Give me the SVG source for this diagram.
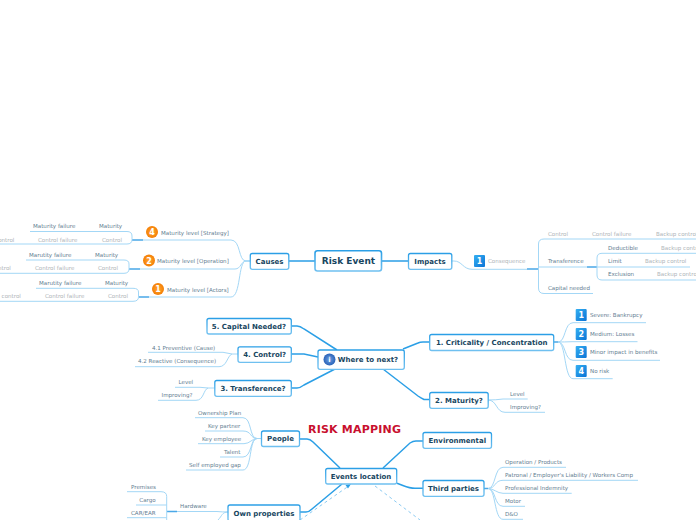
<svg xmlns="http://www.w3.org/2000/svg" width="696" height="520" viewBox="0 0 696 520">
<defs>
<linearGradient id="ns" x1="0" y1="0" x2="0" y2="1"><stop offset="0" stop-color="#2b9fe6"/><stop offset="1" stop-color="#6fc0f0"/></linearGradient>
<linearGradient id="bl" x1="0" y1="0" x2="1" y2="1"><stop offset="0" stop-color="#35b0f2"/><stop offset="1" stop-color="#0a73d6"/></linearGradient>
<radialGradient id="or"><stop offset="0" stop-color="#ffa632"/><stop offset="1" stop-color="#f47f05"/></radialGradient>
<radialGradient id="in"><stop offset="0" stop-color="#6e9fe2"/><stop offset="1" stop-color="#2a63b8"/></radialGradient>
</defs>
<style>
text{font-family:"DejaVu Sans",Verdana,sans-serif}
.n rect{fill:#fff;stroke:url(#ns);stroke-width:1.300}
.n text{font-weight:700;fill:#18465f;font-size:7px;text-anchor:middle}
.l{font-size:5.550px;fill:#5f7d91}
.g{font-size:5.550px;fill:#aeb4b8}
.b{fill:none;stroke:#2b9fe6;stroke-width:1.500}
.m{fill:none;stroke:#4aa8e8;stroke-width:1.300}
.t{fill:none;stroke:#a3d7f6;stroke-width:1}
.d{fill:none;stroke:#8ccbf2;stroke-width:1;stroke-dasharray:3 3}
.o{fill:url(#or)}.s{fill:url(#bl)}
.i{font-size:8px;font-weight:700;fill:#fff;text-anchor:middle}
</style>
<rect width="696" height="520" fill="#fff"/>
<g id="connectors">
<path class="b" d="M289 261H315M382 261H408M291 326H297Q300 326 304 329L337 350M291 354H304L318 357M291 388H297Q300 388 304 385L335 369M403 349L418 343Q420 342 423 342H430M383 369L418 396Q421 398 424 399.500H430M300 439H307Q310 439 313 442L340 468M383 468L410 443Q413 441 416 441H423M397 483.300C405 486 408 488.300 415 488.300H423M300 512H306Q309 512 312 509L342 484"/>
<path class="t" d="M250 261H246C238 261 241 240 231 240H143M250 261H246C241 261 241 269 235 269H140M250 261H246C238 261 241 297 231 297H149"/>
<path class="m" d="M132 240H143M129 269H140M139 297H149M527 269H538M587 267H597M167 511.500H177M554 342H558M484 488.500H488"/>
<path class="t" d="M30 231.500H127Q132 231.500 132 236V239.500Q132 244 127 244H0M26 260H124Q129 260 129 264V269Q129 273.300 124 273.300H0M36 288.300H133Q138.500 288.300 138.500 292V297Q138.500 301.300 133 301.300H0"/>
<path class="t" d="M452 261H454C462 261 463 269.300 472 269.300H527M696 239H544Q538.500 239 538.500 244V288Q538.500 293.500 544 293.500H593M538.500 267H587M597 267H690M696 253.300H602Q597 253.300 597 258V275Q597 280 602 280H696"/>
<path class="t" d="M238 354H232L223 352.300H148M232 354C227 356 227 366.700 219 366.700H135M214.500 388H208L200 387.300H175M208 388C203 390 204 400.300 196 400.300H158"/>
<path class="t" d="M558 342C566 342 564 322.700 573 322.700H646M558 342Q564 342 572 341.700H637.500M558 342C566 342 564 360.300 573 360.300H660M558 342C566 342 564 378.700 573 378.700H612.700M488 400Q496 400 503 399H527.700M488 400C497 400 496 412.300 505 412.300H545"/>
<path class="t" d="M261 438.500H257C249 438.500 252 417.700 243 417.700H195M257 438.500C250 438.500 252 431 243 431H205M257 438.500C252 438.500 250 443.700 244 443.700H198M257 438.500C250 438.500 252 457 243 457H220M257 438.500C249 438.500 252 470 243 470H186"/>
<path class="t" d="M488 488.500C496 488.500 494 467.300 503 467.300H566M488 488.500C496 488.500 494 480.300 503 480.300H638M488 488.500C494 488.500 497 493.300 503 493.300H571.700M488 488.500C496 488.500 494 506.300 503 506.300H525M488 488.500C496 488.500 494 519.300 503 519.300H523"/>
<path class="t" d="M228 512Q222 512 217 511.500H177M166.700 520V496.500Q166.700 491.700 161 491.700H127M166.700 505H136M166.700 517.700H127M228 512C222 512 222 516 218 520"/>
<path class="d" d="M300 520L348 486.500M375 486L420 520"/>
<path d="M351 484l-5.500 1 2.500 3.500z" fill="#2b9fe6"/>
</g>
<g id="causes" class="n"><rect x="250.300" y="253.500" width="38.500" height="15.800" rx="2"/><text x="269.500" y="263.700">Causes</text></g>
<g id="risk-event" class="n"><rect x="315" y="250.700" width="66.500" height="20.300" rx="2.500" style="stroke-width:1.600"/><text x="348.500" y="264.300" style="font-size:9px">Risk Event</text></g>
<g id="impacts" class="n"><rect x="408.500" y="253.500" width="43.300" height="15.800" rx="2"/><text x="430" y="263.700">Impacts</text></g>
<g id="capital" class="n"><rect x="207" y="318.500" width="84.300" height="15.500" rx="2"/><text x="249" y="329">5. Capital Needed?</text></g>
<g id="control" class="n"><rect x="238" y="346.800" width="53.300" height="15.500" rx="2"/><text x="264.700" y="357">4. Control?</text></g>
<g id="where" class="n"><rect x="318" y="350" width="86.300" height="19.300" rx="2"/><circle cx="329.500" cy="359.500" r="6" fill="url(#in)"/><text x="329.500" y="362" style="font-size:7px;fill:#fff">i</text><text x="368" y="362">Where to next?</text></g>
<g id="transference" class="n"><rect x="214.800" y="380.500" width="76.500" height="15.800" rx="2"/><text x="253" y="391">3. Transference?</text></g>
<g id="criticality" class="n"><rect x="429.700" y="334.500" width="124" height="16" rx="2"/><text x="491.700" y="345">1. Criticality / Concentration</text></g>
<g id="maturity" class="n"><rect x="429.700" y="392.500" width="58.500" height="15.800" rx="2"/><text x="459" y="403">2. Maturity?</text></g>
<g id="people" class="n"><rect x="261.500" y="431" width="38" height="15.500" rx="2"/><text x="280.500" y="441.200">People</text></g>
<g id="events" class="n"><rect x="325.700" y="468.500" width="71" height="15.500" rx="2"/><text x="361" y="478.800">Events location</text></g>
<g id="environmental" class="n"><rect x="423" y="432.500" width="68.500" height="15.800" rx="2"/><text x="457.300" y="443">Environmental</text></g>
<g id="third" class="n"><rect x="423" y="480.500" width="61" height="15.800" rx="2"/><text x="453.500" y="491">Third parties</text></g>
<g id="own" class="n"><rect x="228" y="505" width="72" height="16" rx="2"/><text x="264" y="515.500">Own properties</text></g>
<g id="labels">
<text x="308" y="433" style="font-size:11px;font-weight:700;fill:#c8102e;letter-spacing:.2px">RISK MAPPING</text>
<text class="l" x="33" y="228">Maturity failure</text><text class="l" x="99" y="228">Maturity</text>
<text class="g" x="-27" y="241.500">Backup control</text><text class="g" x="38" y="241.500">Control failure</text><text class="g" x="102" y="241.500">Control</text>
<text class="l" x="29" y="257">Marutity failure</text><text class="l" x="95" y="257">Maturity</text>
<text class="g" x="-30.500" y="270">Backup control</text><text class="g" x="35" y="270">Control failure</text><text class="g" x="98" y="270">Control</text>
<text class="l" x="39" y="285">Marutity failure</text><text class="l" x="105" y="285">Maturity</text>
<text class="g" x="-20.500" y="298">Backup control</text><text class="g" x="45" y="298">Control failure</text><text class="g" x="108" y="298">Control</text>
<circle class="o" cx="152" cy="232" r="6"/><text class="i" x="152" y="235">4</text><text class="l" x="161" y="235">Maturity level [Strategy]</text>
<circle class="o" cx="149" cy="260.500" r="6"/><text class="i" x="149" y="263.500">2</text><text class="l" x="157" y="263">Maturity level [Operation]</text>
<circle class="o" cx="158" cy="289" r="6"/><text class="i" x="158" y="292">1</text><text class="l" x="167" y="292">Maturity level [Actors]</text>
<rect class="s" x="474" y="255" width="11" height="12" rx="1"/><text class="i" x="479.500" y="264">1</text><text class="g" x="488" y="263">Consequence</text>
<text class="g" x="548" y="236">Control</text><text class="g" x="592" y="236">Control failure</text><text class="g" x="656" y="236">Backup control</text>
<text class="l" x="548" y="263">Transference</text><text class="l" x="608" y="250">Deductible</text><text class="g" x="661" y="250">Backup control</text>
<text class="l" x="608" y="263">Limit</text><text class="g" x="645" y="263">Backup control</text>
<text class="l" x="608" y="276">Exclusion</text><text class="g" x="657" y="276">Backup control</text>
<text class="l" x="548" y="290">Capital needed</text>
<text class="l" x="152" y="350">4.1 Preventive (Cause)</text><text class="l" x="138" y="363">4.2 Reactive (Consequence)</text>
<text class="l" x="178.500" y="384">Level</text><text class="l" x="161.500" y="397">Improving?</text>
<rect class="s" x="575.700" y="309" width="11" height="12" rx="1"/><text class="i" x="581.200" y="318">1</text><text class="l" x="590" y="317">Severe: Bankrupcy</text>
<rect class="s" x="575.700" y="328" width="11" height="12" rx="1"/><text class="i" x="581.200" y="337">2</text><text class="l" x="590" y="336">Medium: Losses</text>
<rect class="s" x="575.700" y="346" width="11" height="12" rx="1"/><text class="i" x="581.200" y="355">3</text><text class="l" x="590" y="354">Minor impact in benefits</text>
<rect class="s" x="575.700" y="365" width="11" height="12" rx="1"/><text class="i" x="581.200" y="374">4</text><text class="l" x="590" y="373">No risk</text>
<text class="l" x="510" y="396">Level</text><text class="l" x="510" y="409">Improving?</text>
<text class="l" x="198" y="415">Ownership Plan</text><text class="l" x="208" y="428">Key partner</text><text class="l" x="202" y="441">Key employee</text><text class="l" x="224" y="454">Talent</text><text class="l" x="189" y="467">Self employed gap</text>
<text class="l" x="505" y="464">Operation / Products</text><text class="l" x="505" y="477">Patronal / Employer's Liability / Workers Comp</text><text class="l" x="505" y="490">Professional Indemnity</text><text class="l" x="505" y="503">Motor</text><text class="l" x="505" y="516">D&amp;O</text>
<text class="l" x="131" y="489">Premises</text><text class="l" x="139.300" y="502">Cargo</text><text class="l" x="131" y="515">CAR/EAR</text><text class="l" x="180" y="508">Hardware</text>
</g>
</svg>
